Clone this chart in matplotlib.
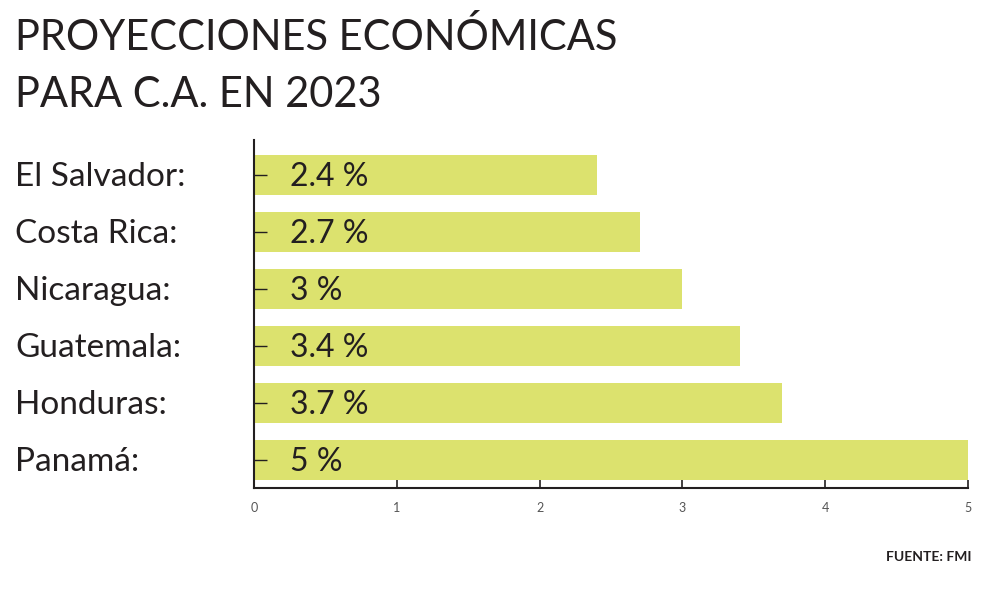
import matplotlib.pyplot as plt
from matplotlib.transforms import blended_transform_factory

paises = ['El Salvador:', 'Costa Rica:', 'Nicaragua:', 'Guatemala:', 'Honduras:', 'Panamá:']
valores = [2.4, 2.7, 3.0, 3.4, 3.7, 5.0]
etiquetas = ['2.4 %', '2.7 %', '3 %', '3.4 %', '3.7 %', '5 %']
xticks = [0, 1, 2, 3, 4, 5]

plt.rcParams['font.family'] = ['Lato', 'DejaVu Sans']
texto = '#231f20'
verde = '#dce26e'

fig = plt.figure(figsize=(10, 5.93), dpi=100)
ax = fig.add_axes([0.254, 0.177, 0.714, 0.587])

pos = list(range(len(paises) - 1, -1, -1))
ax.barh(pos, valores, height=0.7, color=verde)

for p, lab in zip(pos, etiquetas):
    ax.text(0.25, p - 0.04, lab, va='center', ha='left', fontsize=23, color=texto)

ax.set_xlim(0, 5)
ax.set_ylim(-0.49, 5.61)
ax.set_yticks(pos)
ax.set_yticklabels([])
ax.set_xticks(xticks)
ax.set_xticklabels([str(t) for t in xticks], fontsize=9, color='#555555')
ax.tick_params(axis='x', direction='in', length=6, width=1.2, color=texto, pad=10)
ax.tick_params(axis='y', direction='in', length=9, width=1, color=texto)
for s in ['top', 'right']:
    ax.spines[s].set_visible(False)
for s in ['left', 'bottom']:
    ax.spines[s].set_color(texto)
    ax.spines[s].set_linewidth(1.5)

# nombres de países alineados al borde izquierdo de la figura
trans = blended_transform_factory(fig.transFigure, ax.transData)
for p, nombre in zip(pos, paises):
    fig.text(0.015, p - 0.04, nombre, transform=trans, va='center', ha='left',
             fontsize=24, color=texto)

fig.text(0.015, 0.972, 'PROYECCIONES ECONÓMICAS', va='top', ha='left',
         fontsize=30, color=texto)
fig.text(0.015, 0.872, 'PARA C.A. EN 2023', va='top', ha='left',
         fontsize=30, color=texto)
fig.text(0.972, 0.06, 'FUENTE: FMI', ha='right', va='center', fontsize=10,
         fontweight='bold', color=texto)

fig.savefig('out.png', dpi=100, facecolor='white')
